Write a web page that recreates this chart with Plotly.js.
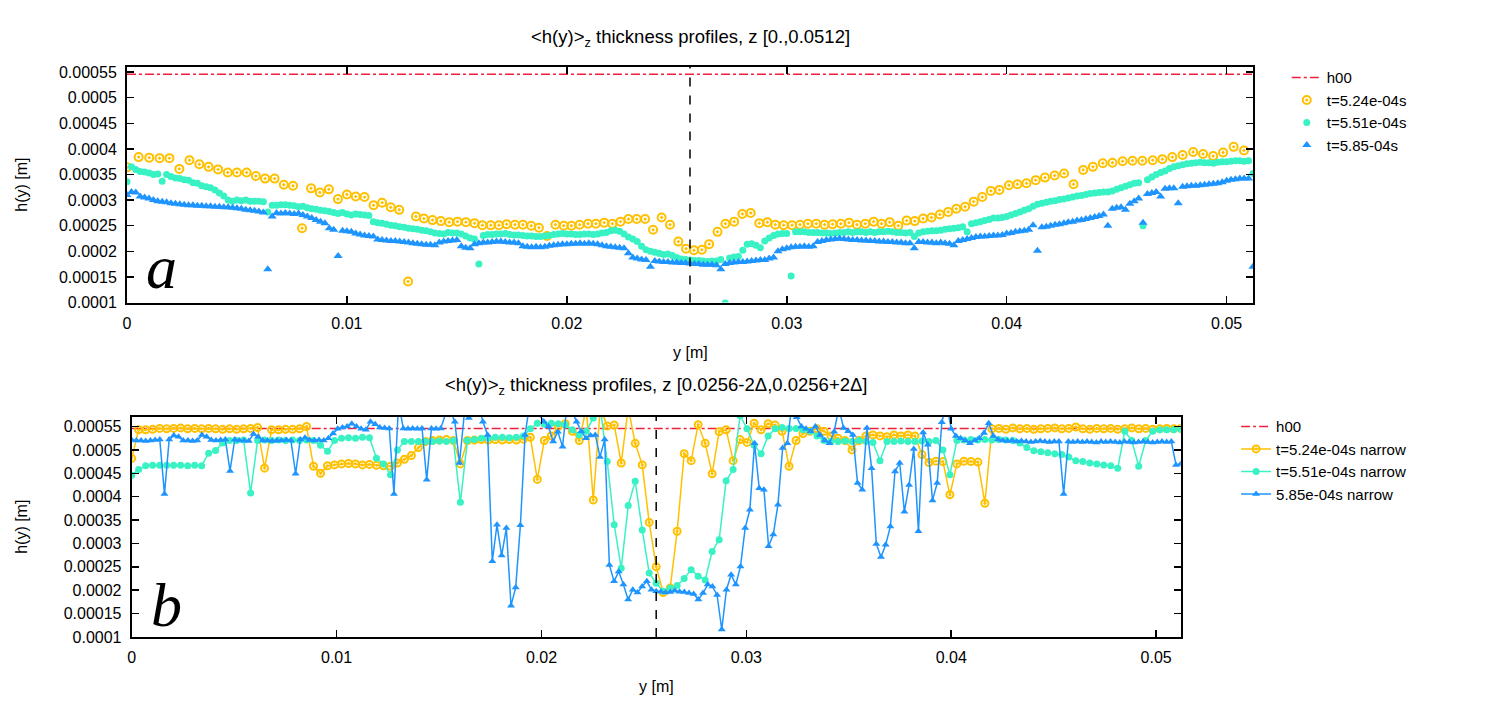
<!DOCTYPE html>
<html><head><meta charset="utf-8">
<script src="https://cdn.plot.ly/plotly-3.0.1.min.js"></script>
<style>html,body{margin:0;padding:0;background:#fff}#chart{width:1508px;height:704px}</style>
</head><body><div id="chart"></div>
<script>
// ---------------- DATA ----------------
// thickness values in micrometres (1e-6 m), positions in metres unless noted
const yLength = 0.0512;          // domain length in y [m]
const yMid = 0.0256;             // centre line (dashed)
const h00_um = 546;              // reference thickness h00

// panel a : t=5.24e-04s  (x in mm, h in micrometres)
const topYellowX_mm = [0.00,0.53,1.01,1.48,1.93,2.38,2.84,3.29,3.71,4.14,4.58,5.00,5.44,5.86,6.28,6.71,7.13,7.55,7.96,8.37,8.77,9.18,9.59,10.00,10.40,10.80,11.21,11.60,11.99,12.38,12.78,13.14,13.50,13.89,14.27,14.65,15.03,15.41,15.80,16.16,16.54,16.91,17.26,17.64,18.00,18.38,18.73,19.10,19.48,19.86,20.21,20.58,20.96,21.32,21.70,22.07,22.44,22.80,23.18,23.56,23.92,24.31,24.69,25.07,25.42,25.78,26.14,26.47,26.85,27.21,27.61,27.98,28.36,28.75,29.12,29.48,29.86,30.24,30.60,30.96,31.34,31.72,32.08,32.46,32.83,33.19,33.57,33.95,34.31,34.68,35.07,35.45,35.82,36.20,36.58,36.96,37.34,37.71,38.11,38.50,38.89,39.28,39.67,40.10,40.49,40.90,41.32,41.74,42.18,42.61,43.04,43.48,43.92,44.37,44.81,45.27,45.72,46.17,46.64,47.08,47.53,48.00,48.48,48.93,49.39,49.84,50.32,50.79];
const topYellowH_um = [364,384,383,382,382,361,378,370,365,360,354,354,354,347,342,342,330,328,245,323,315,321,302,311,307,306,290,295,286,281,141,268,264,261,259,257,258,257,255,251,251,251,253,252,252,250,246,230,252,250,250,252,254,254,256,254,258,263,263,263,242,266,252,219,205,202,203,214,238,254,258,273,275,255,257,252,251,251,252,254,254,252,253,254,256,252,254,258,254,257,250,260,259,264,266,272,277,283,287,297,306,318,320,329,331,333,339,344,348,352,331,359,365,372,373,376,377,377,378,380,384,388,394,390,386,393,404,397];

// panel a : t=5.51e-04s and t=5.85e-04s, sampled every 0.2 mm from y=0
const topGridStep = 0.0002;
const topTealH_um = [336,365,360,356,355,353,350,351,337,350,346,343,342,340,339,334,333,328,326,324,320,314,308,300,298,300,299,300,298,298,298,297,277,290,290,291,291,290,289,287,288,285,283,282,280,279,278,276,274,276,273,271,273,272,271,270,258,256,255,253,251,250,248,247,245,244,243,241,240,238,236,235,234,237,236,236,234,230,226,224,175,231,233,233,234,234,235,233,232,232,231,230,230,229,229,230,231,233,234,235,234,234,233,233,234,234,233,234,236,237,240,241,239,234,228,224,219,210,203,200,198,196,194,195,192,188,185,184,183,182,182,181,180,181,181,184,99,187,189,190,202,214,215,212,207,220,226,231,234,235,235,152,238,238,238,237,237,237,236,236,235,236,237,237,238,237,238,238,237,238,237,238,238,239,238,237,237,236,237,229,236,238,239,240,240,241,243,244,245,246,248,238,254,256,258,260,262,265,265,266,268,271,274,277,280,283,288,292,294,296,298,299,301,302,304,306,308,309,311,313,314,315,316,316,318,321,324,327,330,333,334,250,340,345,350,354,357,362,365,367,369,371,372,373,374,373,373,372,374,375,375,376,377,377,376,377,352];
const topBlueH_um = [310,316,315,307,305,303,300,298,297,296,294,293,292,291,290,290,289,289,288,288,287,287,286,286,285,284,283,281,280,279,278,276,165,268,275,274,275,274,273,274,271,268,265,261,258,255,245,242,191,240,239,238,235,233,231,230,229,223,222,221,220,220,219,218,217,216,215,214,213,213,212,217,219,220,221,222,210,207,206,214,216,217,217,218,219,219,218,217,217,216,210,209,208,209,208,209,211,212,213,214,214,215,215,216,215,216,215,214,212,210,209,208,207,206,196,188,186,184,183,170,181,180,179,179,178,178,177,177,176,175,175,174,174,174,173,165,175,177,178,179,179,180,181,182,183,183,186,188,200,204,206,208,209,209,210,209,210,218,220,222,223,224,225,224,223,222,222,221,221,220,220,219,219,218,218,217,217,216,216,206,218,218,217,217,216,217,216,215,212,220,222,224,226,228,229,229,230,231,231,232,235,236,238,239,240,242,251,201,247,248,250,252,253,255,257,258,260,261,263,265,267,269,272,250,283,285,286,281,293,298,303,256,312,314,316,307,322,323,323,294,326,327,328,328,329,330,331,332,333,335,338,340,341,342,342,342,170];

// panel b : narrow band profiles (evenly sampled over 0..0.0512 m)
const narrowYellowH_um = [482,543,543,544,546,545,546,547,545,546,545,546,545,544,545,544,545,546,548,461,543,543,544,544,545,550,465,450,466,468,470,471,470,468,469,467,466,465,472,480,488,505,518,520,521,522,520,470,520,521,522,521,522,521,522,521,523,527,437,520,530,550,556,540,520,590,393,590,551,553,472,590,514,468,345,250,195,205,326,492,477,554,514,449,539,543,477,522,516,557,543,556,553,540,465,520,535,540,545,540,530,525,520,500,520,530,532,530,528,532,530,532,530,490,473,476,475,404,470,476,475,474,386,545,546,544,547,545,546,544,545,546,547,545,546,549,545,544,546,545,546,544,545,547,545,546,544,545,546,545,546];
const narrowTealH_um = [446,458,466,467,467,467,467,467,466,467,466,493,499,515,520,520,521,408,520,521,520,521,520,521,520,521,520,510,497,520,525,526,525,527,526,482,470,447,500,518,518,518,518,518,519,518,520,388,520,522,525,525,527,527,526,527,530,545,557,555,557,556,554,543,532,540,568,590,475,340,247,381,433,329,237,215,198,205,210,225,244,230,222,283,308,434,458,573,545,510,492,530,545,548,546,546,543,540,530,520,518,518,519,518,520,518,516,477,518,518,519,518,518,519,518,520,500,447,520,521,522,521,522,521,522,521,520,515,505,498,496,494,492,490,485,477,475,472,470,468,466,461,540,520,465,520,540,543,543,543,544];
const narrowBlueH_um = [521,520,520,519,520,521,522,406,522,531,528,520,520,519,520,532,528,521,520,521,522,455,522,520,520,519,534,528,520,520,519,520,520,521,520,449,522,526,521,520,521,520,525,535,545,548,550,556,550,545,543,560,555,548,547,546,406,600,546,545,546,545,546,436,546,545,546,576,585,560,472,575,568,575,600,560,532,262,340,274,333,167,206,339,532,600,590,575,561,550,518,539,507,600,585,560,540,525,531,532,485,522,254,219,240,212,180,201,195,208,219,201,198,197,195,196,199,197,196,194,192,180,194,212,208,190,116,201,233,212,251,333,372,514,418,415,294,319,383,504,514,600,570,550,545,540,550,532,520,514,539,590,547,540,532,429,415,547,461,299,271,297,336,454,472,368,425,502,326,537,511,392,429,559,600,545,530,525,520,514,520,525,536,557,530,522,520,519,520,518,519,518,517,518,519,518,517,518,518,406,518,517,518,517,518,517,516,518,517,518,517,516,518,517,516,517,518,517,516,517,518,517,518,468,470];

// axis ticks
const xTickVals = [0, 0.01, 0.02, 0.03, 0.04, 0.05];
const xTickText = ['0', '0.01', '0.02', '0.03', '0.04', '0.05'];
const yTickVals = [0.0001,0.00015,0.0002,0.00025,0.0003,0.00035,0.0004,0.00045,0.0005,0.00055];
const yTickText = ['0.0001','0.00015','0.0002','0.00025','0.0003','0.00035','0.0004','0.00045','0.0005','0.00055'];

// series names and labels
const namesTop = ['h00', 't=5.24e-04s', 't=5.51e-04s', 't=5.85-04s'];
const namesNarrow = ['h00', 't=5.24e-04s narrow', 't=5.51e-04s narrow', '5.85e-04s narrow'];
const titleTop = '&lt;h(y)&gt;<sub>z</sub> thickness profiles, z [0.,0.0512]';
const titleNarrow = '&lt;h(y)&gt;<sub>z</sub> thickness profiles, z [0.0256-2Δ,0.0256+2Δ]';
const xLabel = 'y [m]', yLabel = 'h(y) [m]';

// ---------------- HELPERS ----------------
const UM = 1e-6;
const toM = a => a.map(v => v * UM);
const gridX = (n, step) => Array.from({length: n}, (_, i) => i * step);
const evenX = n => Array.from({length: n}, (_, i) => i * yLength / (n - 1));

const FONT = 'Liberation Sans, Arial, Helvetica, sans-serif';
const C_RED = '#f0203c', C_YEL = '#ffc000', C_TEAL = '#38f2c4', C_BLUE = '#1e94ff';

// ---------------- TRACES ----------------
const traces = [
  {x: [0, yLength], y: [h00_um*UM, h00_um*UM], mode: 'lines', name: namesTop[0], xaxis: 'x', yaxis: 'y', legend: 'legend',
   line: {color: C_RED, dash: 'dashdot', width: 1.5}},
  {x: topYellowX_mm.map(v => v/1000), y: toM(topYellowH_um), mode: 'markers', name: namesTop[1], xaxis: 'x', yaxis: 'y', legend: 'legend',
   marker: {symbol: 'circle-open-dot', size: 8, color: C_YEL, line: {width: 2, color: C_YEL}}},
  {x: gridX(topTealH_um.length, topGridStep), y: toM(topTealH_um), mode: 'markers', name: namesTop[2], xaxis: 'x', yaxis: 'y', legend: 'legend',
   marker: {symbol: 'circle', size: 7, color: C_TEAL}},
  {x: gridX(topBlueH_um.length, topGridStep), y: toM(topBlueH_um), mode: 'markers', name: namesTop[3], xaxis: 'x', yaxis: 'y', legend: 'legend',
   marker: {symbol: 'triangle-up', size: 8, color: C_BLUE}},

  {x: [0, yLength], y: [h00_um*UM, h00_um*UM], mode: 'lines', name: namesNarrow[0], xaxis: 'x2', yaxis: 'y2', legend: 'legend2',
   line: {color: C_RED, dash: 'dashdot', width: 1.5}},
  {x: evenX(narrowYellowH_um.length), y: toM(narrowYellowH_um), mode: 'lines+markers', name: namesNarrow[1], xaxis: 'x2', yaxis: 'y2', legend: 'legend2',
   line: {color: C_YEL, width: 1.5}, marker: {symbol: 'circle-open-dot', size: 7, color: C_YEL, line: {width: 2, color: C_YEL}}},
  {x: evenX(narrowTealH_um.length), y: toM(narrowTealH_um), mode: 'lines+markers', name: namesNarrow[2], xaxis: 'x2', yaxis: 'y2', legend: 'legend2',
   line: {color: C_TEAL, width: 1.5}, marker: {symbol: 'circle', size: 7, color: C_TEAL}},
  {x: evenX(narrowBlueH_um.length), y: toM(narrowBlueH_um), mode: 'lines+markers', name: namesNarrow[3], xaxis: 'x2', yaxis: 'y2', legend: 'legend2',
   line: {color: C_BLUE, width: 1.5}, marker: {symbol: 'triangle-up', size: 7, color: C_BLUE}}
];

// ---------------- LAYOUT ----------------
function ax(extra) {
  return Object.assign({
    showline: true, linecolor: '#000', linewidth: 2, mirror: 'allticks',
    ticks: 'inside', ticklen: 7, tickwidth: 1.5, tickcolor: '#000',
    showgrid: false, zeroline: false, automargin: false, ticklabelstandoff: 5,
    tickfont: {family: FONT, size: 16, color: '#000'}
  }, extra);
}
const titleFont = {family: FONT, size: 18.5, color: '#000'};
const labelFont = {family: FONT, size: 16, color: '#000'};
const legendFont = {family: FONT, size: 15, color: '#000'};
const letterFont = {family: 'Liberation Serif, DejaVu Serif, serif', size: 62, style: 'italic', color: '#000'};

const layout = {
  width: 1508, height: 704,
  margin: {l: 127, r: 255, t: 67, b: 67},
  paper_bgcolor: '#fff', plot_bgcolor: '#fff',
  showlegend: true,
  xaxis: ax({domain: [0, 1], range: [0, yLength], tickvals: xTickVals, ticktext: xTickText, anchor: 'y'}),
  yaxis: ax({domain: [0.5868, 1], range: [0.0001, 0.00056], tickvals: yTickVals, ticktext: yTickText, anchor: 'x'}),
  xaxis2: ax({domain: [0.00417, 0.93579], range: [0, yLength], tickvals: xTickVals, ticktext: xTickText, anchor: 'y2'}),
  yaxis2: ax({domain: [0, 0.3865], range: [0.0001, 0.000571], tickvals: yTickVals, ticktext: yTickText, anchor: 'x2'}),
  legend: {x: 1.03, y: 1.01, xanchor: 'left', yanchor: 'top', bgcolor: 'rgba(0,0,0,0)', font: legendFont, tracegroupgap: 0},
  legend2: {x: 0.985, y: 0.398, xanchor: 'left', yanchor: 'top', bgcolor: 'rgba(0,0,0,0)', font: legendFont, tracegroupgap: 0},
  shapes: [
    {type: 'line', xref: 'x', yref: 'y domain', x0: yMid, x1: yMid, y0: 0, y1: 1, line: {color: '#000', width: 1.5, dash: 'dash'}},
    {type: 'line', xref: 'x2', yref: 'y2 domain', x0: yMid, x1: yMid, y0: 0, y1: 1, line: {color: '#000', width: 1.5, dash: 'dash'}}
  ],
  annotations: [
    // panel titles
    {text: titleTop, xref: 'x domain', yref: 'y domain', x: 0.5, y: 1.0, yshift: 29, xanchor: 'center', yanchor: 'middle', showarrow: false, font: titleFont},
    {text: titleNarrow, xref: 'x2 domain', yref: 'y2 domain', x: 0.5, y: 1.0, yshift: 31, xanchor: 'center', yanchor: 'middle', showarrow: false, font: titleFont},
    // axis titles
    {text: xLabel, xref: 'x domain', yref: 'y domain', x: 0.5, y: 0, yshift: -50, xanchor: 'center', yanchor: 'middle', showarrow: false, font: labelFont},
    {text: xLabel, xref: 'x2 domain', yref: 'y2 domain', x: 0.5, y: 0, yshift: -49, xanchor: 'center', yanchor: 'middle', showarrow: false, font: labelFont},
    {text: yLabel, xref: 'paper', yref: 'y domain', x: 0, y: 0.5, xshift: -105, textangle: -90, xanchor: 'center', yanchor: 'middle', showarrow: false, font: labelFont},
    {text: yLabel, xref: 'paper', yref: 'y2 domain', x: 0, y: 0.5, xshift: -105, textangle: -90, xanchor: 'center', yanchor: 'middle', showarrow: false, font: labelFont},
    // panel letters
    {text: 'a', xref: 'x domain', yref: 'y domain', x: 0.031, y: 0.15, xanchor: 'center', yanchor: 'middle', showarrow: false, font: letterFont},
    {text: 'b', xref: 'x2 domain', yref: 'y2 domain', x: 0.033, y: 0.145, xanchor: 'center', yanchor: 'middle', showarrow: false, font: letterFont}
  ]
};

Plotly.newPlot('chart', traces, layout, {displayModeBar: false, staticPlot: true});
</script></body></html>
